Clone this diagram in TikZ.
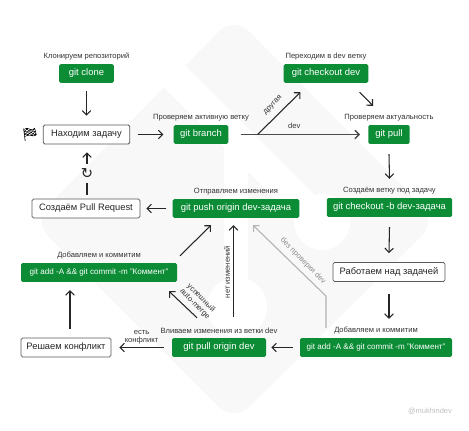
\documentclass[tikz,border=0pt]{standalone}
\usepackage{fontspec}
\setmainfont{Liberation Sans}
\newfontfamily\emojifont{Noto Emoji}
\newfontfamily\symbfont{DejaVu Sans}
\usetikzlibrary{arrows.meta, positioning, calc}

\begin{document}
\begin{tikzpicture}[
        x=0.75pt, y=-0.75pt,
        node distance=2.6pt,
        gitNode/.style={
            rectangle, rounded corners=1.2pt, fill=gitgreen, text=white,
            minimum height=14.2pt, inner sep=0pt, font=\fontsize{7.1}{9}\selectfont
        },
        commitNode/.style={
            gitNode, font=\fontsize{6.05}{8}\selectfont
        },
        taskNode/.style={
            rectangle, rounded corners=1.2pt, draw=black!65, line width=0.6pt, fill=white,
            minimum height=14.2pt, inner sep=0pt, font=\fontsize{7}{9}\selectfont, text=black!85
        },
        stepLabel/.style={font=\fontsize{5.7}{6.5}\selectfont, text=black!80, inner sep=0pt},
        edgeLabel/.style={font=\fontsize{5.7}{6.5}\selectfont, text=black!80, inner sep=0pt, align=center},
        arrow/.style={line width=0.8pt, -{Straight Barb[length=3.2pt,width=6.4pt]}, draw=black!85},
        grayArrow/.style={line width=0.8pt, -{Straight Barb[length=3.2pt,width=6.4pt]}, draw=black!30}
    ]
        \definecolor{gitgreen}{HTML}{0B8C35}
        \definecolor{logogray}{HTML}{F8F8F8}
        \useasboundingbox (0,0) rectangle (469,430);

        % Faint logo behind everything
        \fill[logogray, rounded corners=16pt] (234,16) -- (437,221) -- (234,422) -- (33,221) -- cycle;
        \draw[white, line width=23pt] (150,52) -- (322,224);
        \draw[white, line width=18pt] (236,138) -- (236,307);
        \fill[white] (322,222) circle (21pt);
        \fill[white] (237,307) circle (22.5pt);

        % Top row
        \node (clone) [gitNode, minimum width=41pt] at (86.5,73.5) {git clone};
        \node (cloneText) [stepLabel, above=of clone] {Клонируем репозиторий};
        \node (task) [taskNode, minimum width=65pt] at (86.5,134.5) {Находим задачу};
        \node (flag) [font=\fontsize{10}{10}\emojifont, inner sep=0pt] at (30,134.5) {🏁};
        \node (branch) [gitNode, minimum width=41pt] at (201,134.5) {git branch};
        \node (branchText) [stepLabel, above=of branch] {Проверяем активную ветку};
        \node (checkout) [gitNode, minimum width=63.5pt] at (326,73.5) {git checkout dev};
        \node (checkoutText) [stepLabel, above=of checkout] {Переходим в dev ветку};
        \node (pull) [gitNode, minimum width=31pt] at (389,134.5) {git pull};
        \node (pullText) [stepLabel, above=of pull] {Проверяем актуальность};

        % Middle row
        \node (newBranch) [gitNode, minimum width=94pt] at (389.5,207.5) {git checkout -b dev-задача};
        \node (newBranchText) [stepLabel, above=of newBranch] {Создаём ветку под задачу};
        \node (push) [gitNode, minimum width=95pt] at (236,208.5) {git push origin dev-задача};
        \node (pushText) [stepLabel, above=of push] {Отправляем изменения};
        \node (request) [taskNode, minimum width=81pt] at (86,208.5) {Создаём Pull Request};
        \node (loop) [font=\fontsize{11}{11}\symbfont, inner sep=0pt, minimum height=14pt, text=black!85] at (87,173.5) {↻};
        \node (work) [taskNode, minimum width=84pt] at (389,272) {Работаем над задачей};
        \node (addLeft) [commitNode, minimum width=117pt] at (99,272.5) {git add -A \&\& git commit -m "Коммент"};
        \node (addLeftText) [stepLabel, above=of addLeft] {Добавляем и коммитим};

        % Bottom row
        \node (addRight) [commitNode, minimum width=114pt] at (376,347.5) {git add -A \&\& git commit -m "Коммент"};
        \node (addRightText) [stepLabel, above=of addRight] {Добавляем и коммитим};
        \node (merge) [gitNode, minimum width=70.5pt] at (219,347.5) {git pull origin dev};
        \node (mergeText) [stepLabel, above=of merge] {Вливаем изменения из ветки dev};
        \node (conflict) [taskNode, minimum width=67.5pt] at (66,347.5) {Решаем конфликт};
        \node (mark) [font=\fontsize{5.6}{7}\selectfont, text=black!25, inner sep=0pt] at (430,411) {@mukhindev};

        % Slanted labels
        \node (otherText) [edgeLabel, rotate=45] at (273,105) {другая};
        \node (autoText) [edgeLabel, rotate=-45] at (198,301) {успешный\\auto-merge};
        \node (sameText) [edgeLabel, rotate=90] at (227,272) {нет изменений};
        \node (skipText) [edgeLabel, rotate=-45, text=black!45] at (303,261) {без проверки dev};

        % Free ends of the connectors
        \coordinate (fork) at ($(branch.east)+(29,0)$);
        \coordinate (bend) at (326,296);

        \draw [arrow] ($(clone.south)+(0,8)$) -- ($(task.north)+(0,-9)$);
        \draw [arrow] ($(task.east)+(8,0)$) -- ($(branch.west)+(-10,0)$);
        \draw [arrow, line width=1pt, draw=black!70] ($(branch.east)+(12,0)$) -- ($(pull.west)+(-8,0)$) node [edgeLabel, pos=0.45, above=4pt] {dev};
        \draw [arrow] (fork) -- ($(checkout.south west)+(17,9)$);
        \draw [arrow] ($(checkout.south east)+(-9,9)$) -- ($(pull.north)+(-16,-19)$);
        \draw [arrow] ($(pull.south)+(0,10)$) -- ($(newBranch.north)+(0,-19)$);
        \draw [arrow] ($(newBranch.south)+(0,10)$) -- ($(work.north)+(0,-9)$);
        \draw [arrow] ($(work.south)+(0,12)$) -- ($(addRight.north)+(13,-19)$);
        \draw [arrow] ($(addRight.west)+(-7,0)$) -- ($(merge.east)+(5,0)$);
        \draw [arrow] ($(merge.west)+(-8,0)$) -- ($(conflict.east)+(8,0)$) node [edgeLabel, midway, above=2pt] {есть\\конфликт};
        \draw [arrow] ($(conflict.north)+(4,-9)$) -- ($(addLeft.south)+(-29,8)$);
        \draw [arrow] ($(addLeft.north)+(81,-7)$) -- ($(push.south)+(-25,7)$);
        \draw [arrow] ($(merge.north)+(-22,-20)$) -- ($(addLeft.south)+(70,9)$);
        \draw [arrow] ($(merge.north)+(14.5,-21)$) -- ($(push.south)+(-2.5,7)$);
        \draw [grayArrow] ($(addRight.north)+(-50,-10)$) -- (bend) -- ($(push.south)+(17,7)$);
        \draw [arrow] ($(push.west)+(-6,0)$) -- ($(request.east)+(6,0)$);
        \draw [line width=0.8pt, draw=black!85] ($(request.north)+(1,-4)$) -- (loop.south);
        \draw [arrow] (loop.north) -- ($(task.south)+(0.5,8)$);
    \end{tikzpicture}
\end{document}
